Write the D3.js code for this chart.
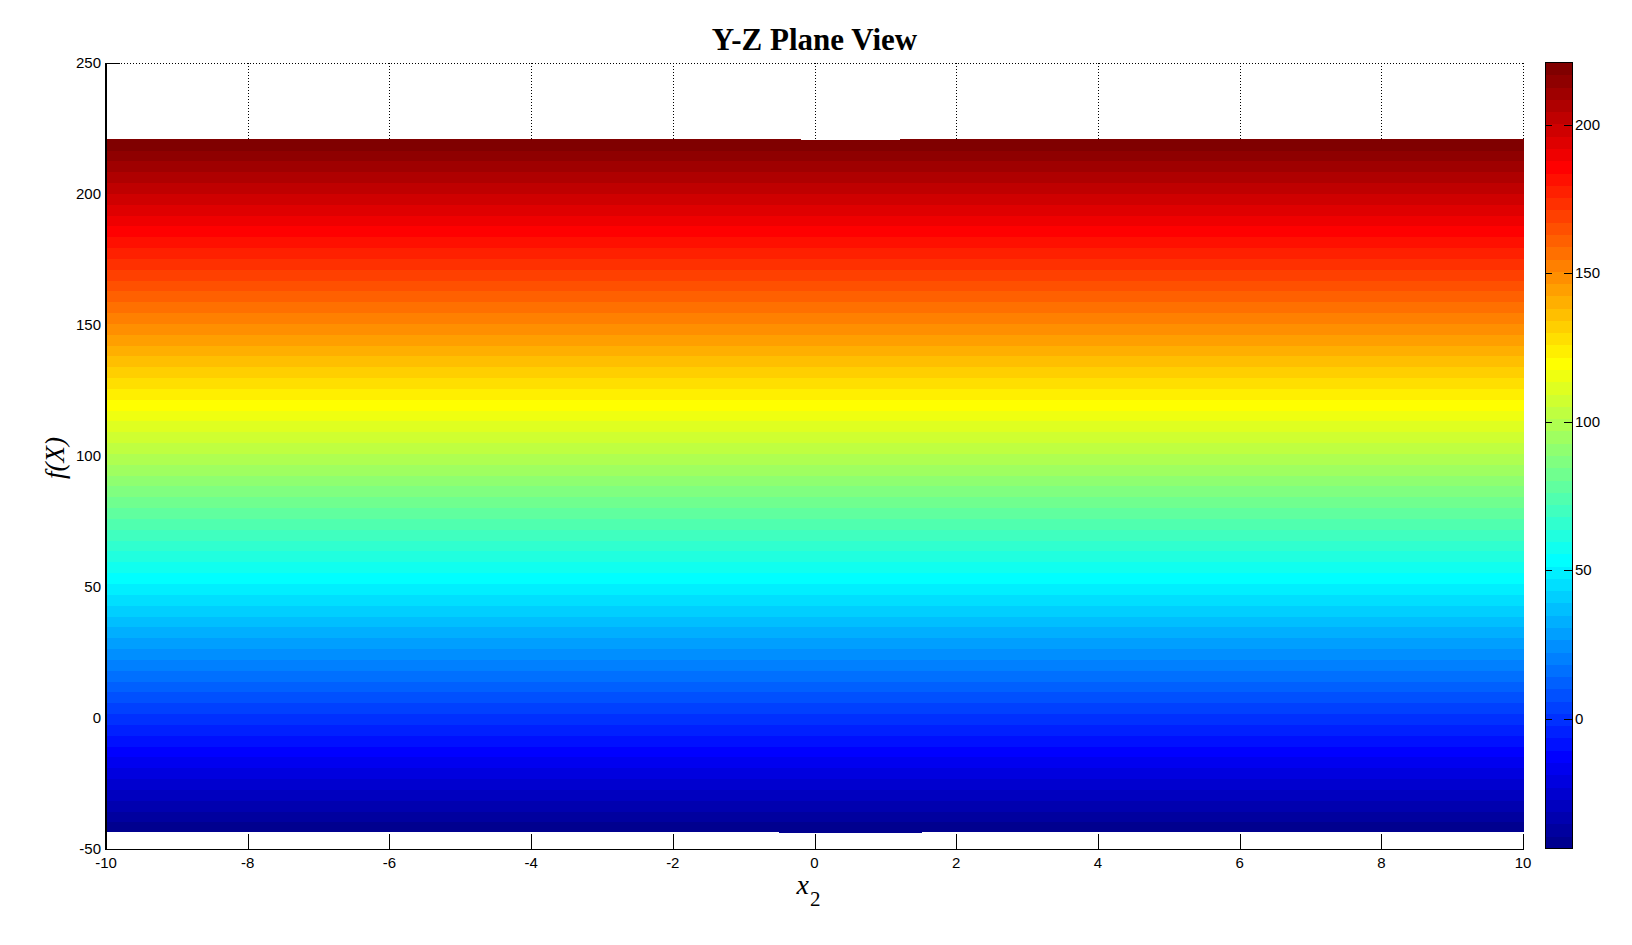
<!DOCTYPE html>
<html>
<head>
<meta charset="utf-8">
<script src="https://cdn.jsdelivr.net/npm/d3@7"></script>
<style>
  body { margin: 0; background: #fff; }
  svg { display: block; }
</style>
</head>
<body>
<div id="chart"></div>
<script>
// surface seen from the side: per x2 strip, lowest and highest f(X)
const x2Start = [-10, -0.5, -0.2, 1.2, 1.5];
const x2End = [-0.5, -0.2, 1.2, 1.5, 10];
const fTop = [221.1, 221.1, 220.7, 221.1, 221.1];
const fBottom = [-43.0, -43.6, -43.6, -43.6, -43.0];

const xTickValues = [-10, -8, -6, -4, -2, 0, 2, 4, 6, 8, 10];
const yTickValues = [-50, 0, 50, 100, 150, 200, 250];
const cbTickValues = [0, 50, 100, 150, 200];

const width = 1632, height = 945;
const plot = { left: 106, right: 1523, top: 63, bottom: 849 };
const cbar = { left: 1545, right: 1572, top: 62, bottom: 848 };
const tickLen = 14;

// matlab jet(64)
function jet(n) {
    const m = Math.ceil(n / 4);
    const u = [];
    for (let k = 1; k <= m; k++) u.push(k / m);
    for (let k = 1; k < m; k++) u.push(1);
    for (let k = m; k >= 1; k--) u.push(k / m);
    const g0 = Math.ceil(m / 2) - (n % 4 === 1 ? 1 : 0);
    const cols = [];
    for (let i = 1; i <= n; i++) {
        const pick = j => (j >= 1 && j <= u.length) ? u[j - 1] : 0;
        const r = pick(i - g0 - m), g = pick(i - g0), b = pick(i - g0 + m);
        cols.push(d3.rgb(r * 255, g * 255, b * 255).formatHex());
    }
    return cols;
}
const jetColors = jet(64);

const svg = d3.select("#chart").append("svg")
    .attr("width", width)
    .attr("height", height);

const x = d3.scaleLinear().domain([-10, 10]).range([plot.left, plot.right]);
const y = d3.scaleLinear().domain([-50, 250]).range([plot.bottom, plot.top]);

const cMin = d3.min(fBottom), cMax = d3.max(fTop);
const color = d3.scaleQuantize().domain([cMin, cMax]).range(jetColors);
const edges = [cMin, ...color.thresholds(), cMax];

// title
svg.append("text")
    .attr("x", (plot.left + plot.right) / 2)
    .attr("y", 50)
    .attr("text-anchor", "middle")
    .attr("font-family", "'Liberation Serif', 'Times New Roman', serif")
    .attr("font-weight", "bold")
    .attr("font-size", 31)
    .text("Y-Z Plane View");

// dotted grid (behind the surface)
const grid = svg.append("g")
    .attr("stroke", "#000")
    .attr("stroke-width", 1)
    .attr("stroke-dasharray", "1,2")
    .attr("shape-rendering", "crispEdges");
grid.selectAll(".gx")
    .data(xTickValues.filter(d => d !== -10))
    .enter().append("line")
    .attr("x1", d => Math.round(x(d)) + 0.5)
    .attr("x2", d => Math.round(x(d)) + 0.5)
    .attr("y1", plot.top)
    .attr("y2", plot.bottom);
grid.selectAll(".gy")
    .data(yTickValues.filter(d => d !== -50))
    .enter().append("line")
    .attr("x1", plot.left)
    .attr("x2", plot.right)
    .attr("y1", d => Math.round(y(d)) + 0.5)
    .attr("y2", d => Math.round(y(d)) + 0.5);

// tick marks (inward, also behind surface)
const ticks = svg.append("g")
    .attr("stroke", "#000")
    .attr("stroke-width", 1)
    .attr("shape-rendering", "crispEdges");
ticks.selectAll(".tx")
    .data(xTickValues)
    .enter().append("line")
    .attr("x1", d => Math.round(x(d)) + 0.5)
    .attr("x2", d => Math.round(x(d)) + 0.5)
    .attr("y1", plot.bottom)
    .attr("y2", plot.bottom - tickLen);
ticks.selectAll(".ty")
    .data(yTickValues)
    .enter().append("line")
    .attr("x1", plot.left)
    .attr("x2", plot.left + tickLen)
    .attr("y1", d => Math.round(y(d)) + 0.5)
    .attr("y2", d => Math.round(y(d)) + 0.5);

// surface cells: each strip cut into the 64 colour bands
const cells = [];
x2Start.forEach((x0, i) => {
    for (let k = 0; k < jetColors.length; k++) {
        const lo = Math.max(edges[k], fBottom[i]);
        const hi = Math.min(edges[k + 1], fTop[i]);
        if (hi > lo) cells.push({ x0: x0, x1: x2End[i], lo: lo, hi: hi, c: jetColors[k] });
    }
});
svg.append("g")
    .attr("shape-rendering", "crispEdges")
    .selectAll("rect")
    .data(cells)
    .enter().append("rect")
    .attr("x", d => Math.round(x(d.x0)))
    .attr("width", d => Math.round(x(d.x1)) - Math.round(x(d.x0)) + 1)
    .attr("y", d => Math.round(y(d.hi)))
    .attr("height", d => Math.round(y(d.lo)) - Math.round(y(d.hi)) + 1)
    .attr("fill", d => d.c);

// axis lines
const axes = svg.append("g")
    .attr("stroke", "#000")
    .attr("stroke-width", 1.3)
    .attr("shape-rendering", "crispEdges");
axes.append("line")
    .attr("x1", plot.left).attr("x2", plot.left)
    .attr("y1", plot.top).attr("y2", plot.bottom + 0.5);
axes.append("line")
    .attr("x1", plot.left).attr("x2", plot.right + 1)
    .attr("y1", plot.bottom + 0.5).attr("y2", plot.bottom + 0.5);

// tick labels
const labelFont = "'Liberation Sans', Arial, sans-serif";
svg.append("g").selectAll("text")
    .data(xTickValues)
    .enter().append("text")
    .attr("x", d => x(d))
    .attr("y", plot.bottom + 19)
    .attr("text-anchor", "middle")
    .attr("font-family", labelFont)
    .attr("font-size", 15)
    .text(d => d);
svg.append("g").selectAll("text")
    .data(yTickValues)
    .enter().append("text")
    .attr("x", plot.left - 5)
    .attr("y", d => y(d) + 5)
    .attr("text-anchor", "end")
    .attr("font-family", labelFont)
    .attr("font-size", 15)
    .text(d => d);

// axis labels
const xLab = svg.append("text")
    .attr("x", (plot.left + plot.right) / 2 - 6)
    .attr("y", 894)
    .attr("font-family", "'Liberation Serif', 'Times New Roman', serif")
    .attr("font-style", "italic")
    .attr("font-size", 28)
    .attr("text-anchor", "middle");
xLab.append("tspan").text("x");
xLab.append("tspan")
    .attr("dy", 12)
    .attr("dx", 1)
    .attr("font-style", "normal")
    .attr("font-size", 21)
    .text("2");

svg.append("text")
    .attr("transform", `translate(64, ${(plot.top + plot.bottom) / 2 + 2}) rotate(-90)`)
    .attr("text-anchor", "middle")
    .attr("font-family", "'Liberation Serif', 'Times New Roman', serif")
    .attr("font-style", "italic")
    .attr("font-size", 27)
    .text("f(X)");

// colorbar
const cb = d3.scaleLinear().domain([cMin, cMax]).range([cbar.bottom, cbar.top]);
svg.append("g")
    .attr("shape-rendering", "crispEdges")
    .selectAll("rect")
    .data(jetColors)
    .enter().append("rect")
    .attr("x", cbar.left)
    .attr("width", cbar.right - cbar.left)
    .attr("y", (d, k) => Math.round(cb(edges[k + 1])))
    .attr("height", (d, k) => Math.round(cb(edges[k])) - Math.round(cb(edges[k + 1])) + 1)
    .attr("fill", d => d);
svg.append("rect")
    .attr("x", cbar.left + 0.5)
    .attr("y", cbar.top + 0.5)
    .attr("width", cbar.right - cbar.left)
    .attr("height", cbar.bottom - cbar.top)
    .attr("fill", "none")
    .attr("stroke", "#000")
    .attr("stroke-width", 1.3)
    .attr("shape-rendering", "crispEdges");
const cbTicks = svg.append("g")
    .attr("stroke", "#000")
    .attr("shape-rendering", "crispEdges");
cbTicks.selectAll(".l")
    .data(cbTickValues)
    .enter().append("line")
    .attr("x1", cbar.left).attr("x2", cbar.left + 7)
    .attr("y1", d => Math.round(cb(d)) + 0.5)
    .attr("y2", d => Math.round(cb(d)) + 0.5);
cbTicks.selectAll(".r")
    .data(cbTickValues)
    .enter().append("line")
    .attr("x1", cbar.right - 8).attr("x2", cbar.right)
    .attr("y1", d => Math.round(cb(d)) + 0.5)
    .attr("y2", d => Math.round(cb(d)) + 0.5);
svg.append("g").selectAll("text")
    .data(cbTickValues)
    .enter().append("text")
    .attr("x", cbar.right + 3)
    .attr("y", d => cb(d) + 5)
    .attr("font-family", labelFont)
    .attr("font-size", 15)
    .text(d => d);
</script>
</body>
</html>
